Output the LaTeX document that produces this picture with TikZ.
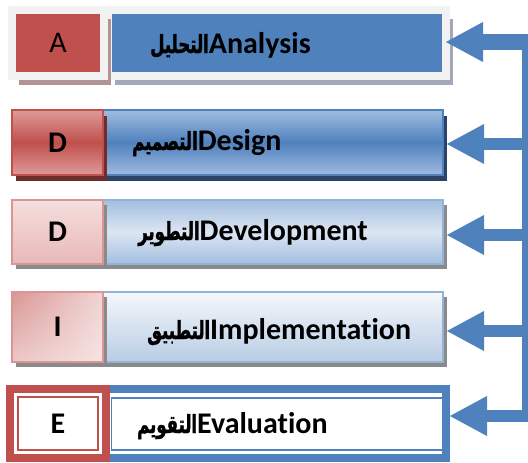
\documentclass[tikz,border=0pt]{standalone}
\usepackage{fontspec}
\setmainfont{Carlito}[Ligatures=NoCommon]
\newfontfamily\arabicfont[Script=Arabic,FakeStretch=0.66,FakeBold=1.4]{DejaVu Sans}
\TeXXeTstate=1
\usetikzlibrary{arrows.meta,shadows,shadings}
\definecolor{accblue}{HTML}{4F81BD}
\definecolor{accred}{HTML}{C0504D}
\definecolor{framegray}{HTML}{F2F2F2}
\definecolor{shdA}{HTML}{A3A8B8}
\definecolor{shdAr}{HTML}{B39393}
\definecolor{shdBb}{HTML}{2A4468}
\definecolor{shdBr}{HTML}{6E2E2C}
\definecolor{shdgray}{HTML}{8A8A8A}
\definecolor{lbA}{RGB}{160,188,224}
\definecolor{lrA}{RGB}{222,154,152}
\definecolor{lbB}{RGB}{163,190,224}
\definecolor{lbC}{RGB}{220,230,242}
\definecolor{lbBorder}{RGB}{149,179,215}
\definecolor{lrBorder}{RGB}{217,150,148}
\definecolor{lrC}{RGB}{244,222,221}
\definecolor{lrD}{RGB}{232,185,184}
\definecolor{lbTop}{RGB}{245,248,252}
\definecolor{lbBot}{RGB}{184,204,228}
\definecolor{lrUR}{RGB}{240,212,211}
\definecolor{lrLL}{RGB}{236,200,199}
\definecolor{lrLR}{RGB}{245,228,227}
\newcommand{\arlab}[1]{{\arabicfont\fontsize{25}{27}\selectfont\beginR #1\endR}}
\begin{document}
\begin{tikzpicture}[x=1pt,y=-1pt,
  cell/.style={rectangle, inner sep=0pt, outer sep=0pt},
  bigfont/.style={font=\fontsize{30}{32}\selectfont\bfseries},
  lab/.style={anchor=base west, inner sep=0pt, bigfont},
  flow/.style={draw=accblue, line width=12pt, -{Triangle[width=40pt,length=37pt,line width=0pt]}},
  spine/.style={draw=accblue, line width=7pt}]
\useasboundingbox (0,0) rectangle (528,463);
\fill[white] (0,0) rectangle (528,463);

% Row 1 : Analysis
\node[cell, minimum width=338pt, minimum height=66pt, fill=accblue, draw=framegray, line width=8pt,
  drop shadow={shadow xshift=7pt, shadow yshift=-9pt, fill=shdA, opacity=1}] (a2) at (277,43) {};
\node[cell, minimum width=92pt, minimum height=66pt, fill=accred, draw=framegray, line width=8pt,
  drop shadow={shadow xshift=7pt, shadow yshift=-9pt, fill=shdAr, opacity=1},
  font=\fontsize{30}{32}\selectfont] (a1) at (58,43) {A};

% Row 2 : Design
\node[cell, minimum width=340pt, minimum height=65pt, draw=accblue, line width=1.5pt,
  top color=lbA, bottom color=lbA, middle color=accblue,
  drop shadow={shadow xshift=4pt, shadow yshift=-6pt, fill=shdBb, opacity=1}] (b2) at (273,142.5) {};
\node[cell, minimum width=91pt, minimum height=65pt, draw=accred, line width=1.5pt,
  top color=lrA, bottom color=lrA, middle color=accred,
  drop shadow={shadow xshift=4pt, shadow yshift=-6pt, fill=shdBr, opacity=1}, bigfont] (b1) at (57.5,142.5) {D};

% Row 3 : Development
\node[cell, minimum width=340pt, minimum height=64pt, draw=lbBorder, line width=1.5pt,
  top color=lbB, bottom color=lbB, middle color=lbC,
  drop shadow={shadow xshift=4pt, shadow yshift=-5pt, fill=shdgray, opacity=1}] (c2) at (273,232) {};
\node[cell, minimum width=91pt, minimum height=64pt, draw=lrBorder, line width=1.5pt,
  top color=lrC, bottom color=lrD,
  drop shadow={shadow xshift=4pt, shadow yshift=-5pt, fill=shdgray, opacity=1}, bigfont] (c1) at (57.5,232) {D};

% Row 4 : Implementation
\node[cell, minimum width=340pt, minimum height=70pt, draw=lbBorder, line width=1.5pt,
  top color=lbTop, bottom color=lbBot,
  drop shadow={shadow xshift=4pt, shadow yshift=-5pt, fill=shdgray, opacity=1}] (d2) at (273,327) {};
\node[cell, minimum width=91pt, minimum height=70pt, draw=lrBorder, line width=1.5pt,
  shading=bilinear interpolation,
  upper left=lrBorder, upper right=lrUR, lower left=lrLL, lower right=lrLR,
  drop shadow={shadow xshift=4pt, shadow yshift=-5pt, fill=shdgray, opacity=1}, bigfont] (d1) at (57.5,327) {I};

% Row 5 : Evaluation
\node[cell, minimum width=342pt, minimum height=69pt, fill=white, draw=accblue, line width=8pt] (e2) at (275,423.5) {};
\draw[accblue, line width=1.5pt] ([xshift=7.5pt,yshift=-9pt]e2.north west) rectangle ([xshift=-3pt,yshift=8pt]e2.south east);
\node[cell, minimum width=96pt, minimum height=69pt, fill=white, draw=accred, line width=8pt, bigfont] (e1) at (58,423.5) {E};
\draw[accred, line width=2pt] ([xshift=8pt,yshift=-8pt]e1.north west) rectangle ([xshift=-8pt,yshift=8pt]e1.south east);

% Labels
\node[lab] (la) at (150,53) {\arlab{التحليل}Analysis};
\node[lab] (lb) at (132,150) {\arlab{التصميم}Design};
\node[lab] (lc) at (138,240) {\arlab{التطوير}Development};
\node[lab] (ld) at (147,339) {\arlab{التطبيق}Implementation};
\node[lab] (le) at (137,433) {\arlab{التقويم}Evaluation};

% Connectors
\coordinate (t1) at (528.5,42);
\coordinate (t2) at (528.5,144);
\coordinate (t3) at (528.5,235);
\coordinate (t4) at (528.5,331);
\coordinate (t5) at (528.5,416);
\coordinate (vtop) at (525,42);
\coordinate (vbot) at (525,422);
\draw[spine] (vtop) -- (vbot);
\draw[flow, line width=16pt] (t1) -- (t1 -| a2.east);
\draw[flow] (t2) -- ([xshift=4pt]t2 -| b2.east);
\draw[flow] (t3) -- ([xshift=4pt]t3 -| c2.east);
\draw[flow] (t4) -- ([xshift=4pt]t4 -| d2.east);
\draw[flow] (t5) -- ([xshift=4pt]t5 -| e2.east);
\end{tikzpicture}
\end{document}
